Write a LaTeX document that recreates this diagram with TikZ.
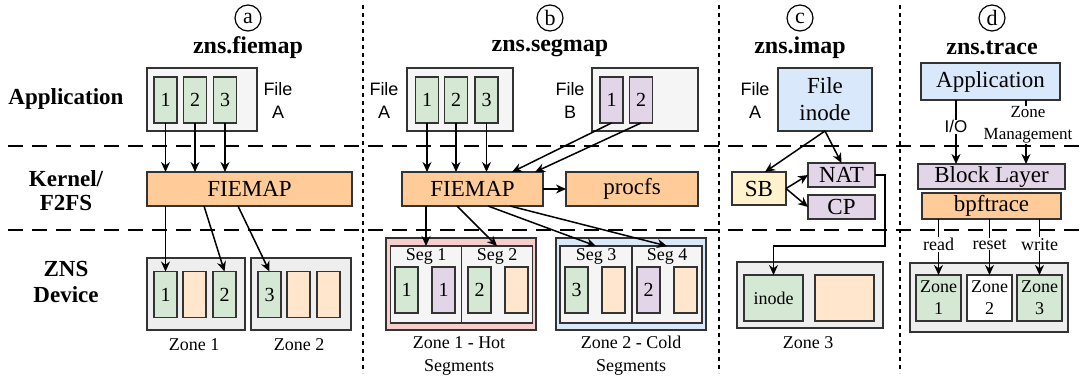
\documentclass[tikz,border=0pt]{standalone}
\usepackage{fontspec}
\setmainfont{Liberation Serif}
\setsansfont{Liberation Sans}
\usetikzlibrary{positioning, calc, arrows.meta}

\definecolor{pgGreen}{HTML}{D5E8D4}
\definecolor{pgPurple}{HTML}{E1D5E7}
\definecolor{pgPeach}{HTML}{FFE6CC}
\definecolor{boxOrange}{HTML}{FFCC99}
\definecolor{boxBlue}{HTML}{DAE8FC}
\definecolor{boxYellow}{HTML}{FFF2CC}
\definecolor{boxPink}{HTML}{F8CECC}
\definecolor{boxGray}{HTML}{F5F5F5}
\definecolor{zoneGray}{HTML}{EEEEEE}
\definecolor{lineDark}{HTML}{333333}

\newcommand{\boxfont}{\fontsize{11.5}{13.5}\selectfont}
\newcommand{\smallfont}{\fontsize{9}{11.5}\selectfont}
\newcommand{\mgmtfont}{\fontsize{8.5}{11}\selectfont}
\newcommand{\filefont}{\sffamily\fontsize{9}{11.5}\selectfont}

\tikzstyle{holder} = [rectangle, draw=lineDark, line width=0.7pt, inner sep=0pt, outer sep=0pt]
\tikzstyle{page} = [holder, minimum width=11.5pt, minimum height=23pt, font=\fontsize{10}{12}\selectfont]
\tikzstyle{greenpg} = [page, fill=pgGreen]
\tikzstyle{purplepg} = [page, fill=pgPurple]
\tikzstyle{peachpg} = [page, fill=pgPeach]
\tikzstyle{stage} = [holder, font=\boxfont, align=center]
\tikzstyle{arrow} = [-{Stealth[length=5pt, width=4.5pt]}, line width=0.75pt]
\tikzstyle{rowlabel} = [font=\bfseries\boxfont, align=center]
\tikzstyle{title} = [font=\bfseries\fontsize{12}{14}\selectfont]
\tikzstyle{tag} = [circle, draw, line width=0.6pt, minimum size=13pt, inner sep=0pt, font=\fontsize{11}{13}\selectfont]
\tikzstyle{filelabel} = [font=\filefont, align=center]
\tikzstyle{caption} = [font=\smallfont, align=center]
\tikzstyle{cutlabel} = [fill=white, inner sep=0.5pt, font=\smallfont, align=center]
\tikzstyle{tierline} = [line width=1.4pt, dash pattern=on 7.5pt off 4.5pt]
\tikzstyle{colline} = [line width=0.6pt, dash pattern=on 2pt off 2pt]

\begin{document}
\begin{tikzpicture}[x=0.5pt, y=-0.5pt]
  \useasboundingbox (0,0) rectangle (1081,381);

  % separators
  \draw [tierline] (8,146) -- (1081,146);
  \draw [tierline] (8,230) -- (1081,230);
  \draw [colline] (363,5) -- (363,373);
  \draw [colline] (719,5) -- (719,373);
  \draw [colline] (900,5) -- (900,373);

  % row names
  \node (rowApp) [rowlabel] at (66,99) {Application};
  \node (rowKer) [rowlabel, font=\bfseries\fontsize{11.5}{12}\selectfont] at (66,191) {Kernel/\\F2FS};
  \node (rowDev) [rowlabel, font=\bfseries\fontsize{11.5}{13}\selectfont] at (66,282) {ZNS\\Device};

  % (a) zns.fiemap
  \node (tagA) [tag] at (248,18) {a};
  \node (titleA) [title] at (248,48) {zns.fiemap};
  \node (fileA) [holder, fill=boxGray, minimum width=55pt, minimum height=31.5pt] at (202,99.5) {};
  \node (a1) [greenpg] at (165.5,100) {1};
  \node (a2) [greenpg, right=3.25pt of a1] {2};
  \node (a3) [greenpg, right=3.5pt of a2] {3};
  \node (nameA) [filelabel] at (278,100) {File\\A};
  \node (fiemapA) [stage, fill=boxOrange, minimum width=102.5pt, minimum height=17pt] at (249.5,189) {FIEMAP};
  \node (zoneA1) [holder, fill=zoneGray, minimum width=49pt, minimum height=36pt] at (196,294) {};
  \node (zoneA2) [holder, fill=zoneGray, minimum width=50pt, minimum height=36pt] at (301,294) {};
  \node (za1) [greenpg] at (165.5,294.5) {1};
  \node (za0) [peachpg, right=3pt of za1] {};
  \node (za2) [greenpg, right=3.5pt of za0] {2};
  \node (za3) [greenpg] at (269.5,294.5) {3};
  \node (za4) [peachpg, right=3pt of za3] {};
  \node (za5) [peachpg, right=3.5pt of za4] {};
  \node (capA1) [caption] at (194,345) {Zone 1};
  \node (capA2) [caption] at (299,345) {Zone 2};

  \draw [arrow] (a1.south) -- (a1 |- fiemapA.north);
  \draw [arrow] (a2.south) -- (a2 |- fiemapA.north);
  \draw [arrow] (a3.south) -- (a3 |- fiemapA.north);
  \draw [arrow] (za1 |- fiemapA.south) -- (za1.north);
  \draw [arrow] ($(fiemapA.south west)+(57,0)$) -- (za2.north);
  \draw [arrow] ($(fiemapA.south west)+(91,0)$) -- (za3.north);

  % (b) zns.segmap
  \node (tagB) [tag] at (550,18) {b};
  \node (titleB) [title] at (550,48) {zns.segmap};
  \node (fileAb) [holder, fill=boxGray, minimum width=53pt, minimum height=31.5pt] at (460,99.5) {};
  \node (b1) [greenpg] at (427,100) {1};
  \node (b2) [greenpg, right=3pt of b1] {2};
  \node (b3) [greenpg, right=3.75pt of b2] {3};
  \node (nameAb) [filelabel] at (384,100) {File\\A};
  \node (fileBb) [holder, fill=boxGray, minimum width=53pt, minimum height=31.5pt] at (645,99.5) {};
  \node (bp1) [purplepg] at (611.5,100) {1};
  \node (bp2) [purplepg, right=3.25pt of bp1] {2};
  \node (nameBb) [filelabel] at (570,100) {File\\B};
  \node (fiemapB) [stage, fill=boxOrange, minimum width=70.5pt, minimum height=17pt] at (472.5,189) {FIEMAP};
  \node (procfs) [stage, fill=boxOrange, minimum width=66pt, minimum height=17pt] at (632,189) {procfs};

  \node (hotZone) [holder, fill=boxPink, minimum width=75pt, minimum height=46pt] at (461,284) {};
  \node (seg1) [holder, fill=boxGray, minimum width=35.5pt, minimum height=38.5pt,
    label={[anchor=north, inner sep=1pt, font=\smallfont]north:Seg 1}] at (426,284.5) {};
  \node (seg2) [holder, fill=boxGray, minimum width=35.5pt, minimum height=38.5pt, right=0pt of seg1,
    label={[anchor=north, inner sep=1pt, font=\smallfont]north:Seg 2}] {};
  \node (h1) [greenpg] at (406.5,290) {1};
  \node (h2) [purplepg, right=7pt of h1] {1};
  \node (h3) [greenpg, right=6.5pt of h2] {2};
  \node (h4) [peachpg, right=7pt of h3] {};

  \node (coldZone) [holder, fill=boxBlue, minimum width=75pt, minimum height=46pt] at (631,284) {};
  \node (seg3) [holder, fill=boxGray, minimum width=36pt, minimum height=38.5pt,
    label={[anchor=north, inner sep=1pt, font=\smallfont]north:Seg 3}] at (596,284.5) {};
  \node (seg4) [holder, fill=boxGray, minimum width=35pt, minimum height=38.5pt, right=0pt of seg3,
    label={[anchor=north, inner sep=1pt, font=\smallfont]north:Seg 4}] {};
  \node (c1) [greenpg] at (576.5,290) {3};
  \node (c2) [peachpg, right=7pt of c1] {};
  \node (c3) [purplepg, right=6pt of c2] {2};
  \node (c4) [peachpg, right=7pt of c3] {};
  \node (capB1) [caption] at (459,356) {Zone 1 - Hot\\Segments};
  \node (capB2) [caption] at (631,356) {Zone 2 - Cold\\Segments};

  \draw [arrow] (b1.south) -- (b1 |- fiemapB.north);
  \draw [arrow] (b2.south) -- (b2 |- fiemapB.north);
  \draw [arrow] (b3.south) -- (b3 |- fiemapB.north);
  \draw [arrow] (bp1.south) -- ($(fiemapB.north east)+(-31,0)$);
  \draw [arrow] (bp2.south) -- ($(fiemapB.north east)+(-8,0)$);
  \draw [arrow] (fiemapB.east) -- (procfs.west);
  \draw [arrow] ($(fiemapB.south west)+(24,0)$) -- (seg1.north);
  \draw [arrow] ($(fiemapB.south west)+(55,0)$) -- (seg2.north);
  \draw [arrow] ($(fiemapB.south west)+(86,0)$) -- (seg3.north);
  \draw [arrow] ($(fiemapB.south west)+(108,0)$) -- (seg4.north);

  % (c) zns.imap
  \node (tagC) [tag] at (800,18) {c};
  \node (titleC) [title] at (800,48) {zns.imap};
  \node (inodeBox) [stage, fill=boxBlue, minimum width=47pt, minimum height=31.5pt] at (825,99.5) {File\\inode};
  \node (nameAc) [filelabel] at (755,100) {File\\A};
  \node (sb) [stage, fill=boxYellow, minimum width=27pt, minimum height=16.5pt] at (759,188.5) {SB};
  \node (nat) [stage, fill=pgPurple, minimum width=33.5pt, minimum height=12pt] at (841.5,175) {NAT};
  \node (cp) [stage, fill=pgPurple, minimum width=33.5pt, minimum height=12pt] at (841.5,207) {CP};
  \node (zoneC) [holder, fill=zoneGray, minimum width=73pt, minimum height=33pt] at (810,295) {};
  \node (inodePg) [page, fill=pgGreen, minimum width=29.5pt, font=\smallfont] at (773.5,298) {inode};
  \node (freePg) [page, fill=pgPeach, minimum width=29.5pt] at (844.5,298) {};
  \node (capC) [caption] at (808,343) {Zone 3};
  \coordinate (turnC) at (885,246);

  \draw [arrow] (inodeBox.south) -- ($(sb.north)+(6,0)$);
  \draw [arrow] (inodeBox.south) -- (nat.north);
  \draw [arrow] (sb.east) -- (nat.west);
  \draw [arrow] (sb.east) -- (cp.west);
  \draw [arrow] (nat.east) -| (turnC) -| (inodePg.north);

  % (d) zns.trace
  \node (tagD) [tag] at (992,18) {d};
  \node (titleD) [title] at (992,48) {zns.trace};
  \node (appD) [stage, fill=boxBlue, minimum width=69.5pt, minimum height=18.5pt] at (990.5,81.5) {Application};
  \node (blockD) [stage, fill=pgPurple, minimum width=73.5pt, minimum height=12.5pt] at (991.5,176.5) {Block Layer};
  \node (bpfD) [stage, fill=boxOrange, minimum width=69.5pt, minimum height=13pt] at (991.5,206) {bpftrace};
  \node (zoneD) [holder, fill=zoneGray, minimum width=79pt, minimum height=34.5pt] at (989,297.5) {};
  \node (zd1) [page, fill=pgGreen, minimum width=22.5pt, font=\fontsize{9}{11}\selectfont, align=center] at (938.5,298) {Zone\\1};
  \node (zd2) [page, fill=white, minimum width=22.5pt, font=\fontsize{9}{11}\selectfont, align=center, right=3pt of zd1] {Zone\\2};
  \node (zd3) [page, fill=pgGreen, minimum width=22.5pt, font=\fontsize{9}{11}\selectfont, align=center, right=2.5pt of zd2] {Zone\\3};
  \coordinate (ioTop) at (956,100);
  \coordinate (mgTop) at (1026,100);

  \draw [arrow] (ioTop) -- node[cutlabel, pos=0.42, font=\sffamily\mgmtfont] {I/O} (ioTop |- blockD.north);
  \draw [arrow] (mgTop) -- node[cutlabel, pos=0.39, xshift=1pt, font=\mgmtfont] {Zone\\Management} (mgTop |- blockD.north);
  \draw [arrow] (zd1 |- bpfD.south) -- node[cutlabel, pos=0.45] {read} (zd1.north);
  \draw [arrow] (zd2 |- bpfD.south) -- node[cutlabel, pos=0.45] {reset} (zd2.north);
  \draw [arrow] (zd3 |- bpfD.south) -- node[cutlabel, pos=0.45] {write} (zd3.north);
\end{tikzpicture}
\end{document}
